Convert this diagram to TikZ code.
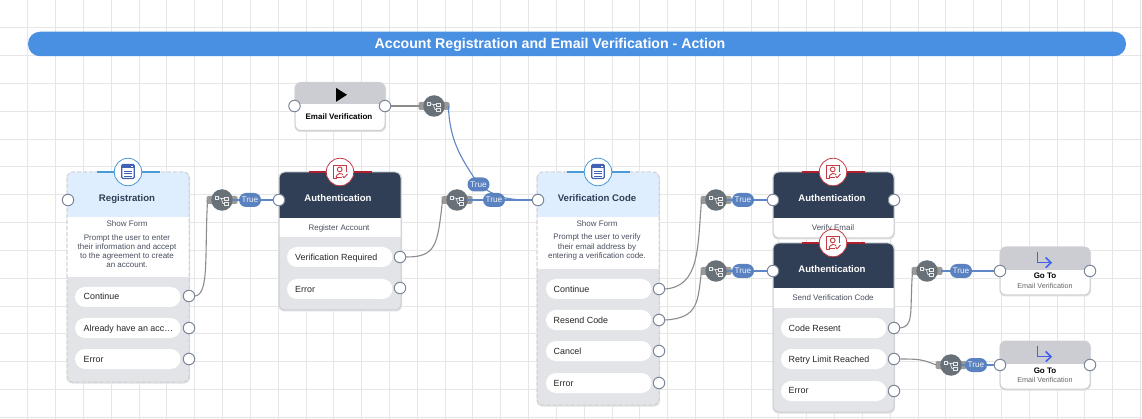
\documentclass[tikz,border=0pt]{standalone}
\usepackage{fontspec}
\setmainfont{Liberation Sans}
\definecolor{gridc}{HTML}{E6E6E7}
\definecolor{titlec}{HTML}{4A90E2}
\definecolor{lightb}{HTML}{DFEEFE}
\definecolor{darkh}{HTML}{303F56}
\definecolor{panel}{HTML}{E3E4E7}
\definecolor{bordc}{HTML}{CDD0D5}
\definecolor{topg}{HTML}{CBCDD2}
\definecolor{portc}{HTML}{7C8798}
\definecolor{bodyt}{HTML}{4A5060}
\definecolor{branchc}{HTML}{687078}
\definecolor{stubc}{HTML}{9A9A9A}
\definecolor{truec}{HTML}{5B82C0}
\definecolor{edgeb}{HTML}{5F86C6}
\definecolor{edgeg}{HTML}{8C8C8C}
\definecolor{redc}{HTML}{C23B45}
\definecolor{redbar}{HTML}{B0202E}
\definecolor{bluec}{HTML}{4A9AD8}
\definecolor{formc}{HTML}{3F62B5}
\definecolor{gotoc}{HTML}{3F5FF0}
\usetikzlibrary{calc}
\pgfdeclarelayer{front}
\pgfsetlayers{main,front}
\tikzset{
  port/.style={circle,draw=portc,fill=white,line width=1pt,minimum size=11.5pt,inner sep=0pt},
  pill/.style={rounded corners=10pt,fill=white},
  pilltext/.style={anchor=base west,inner sep=0pt,font=\fontsize{8.9}{10}\selectfont,text=black!85},
  heading/.style={inner sep=0pt,anchor=base,font=\fontsize{9.6}{11}\selectfont\bfseries},
  bodytext/.style={inner sep=0pt,align=center,font=\fontsize{8}{9.1}\selectfont,text=bodyt},
  branchnode/.style={circle,fill=branchc,minimum size=21.5pt,inner sep=0pt},
  truenode/.style={rounded corners=7pt,fill=truec,minimum width=22pt,minimum height=14pt,inner sep=0pt,text=white!90!truec,font=\fontsize{8.2}{10}\selectfont},
  blueedge/.style={draw=edgeb,line width=1.1pt},
  grayedge/.style={draw=edgeg,line width=1.1pt},
  softdash/.style={dash pattern=on 4pt off 2pt},
}
% card: x1 y1 x2 y2 header-bottom white-bottom header-colour
\newcommand{\cardbox}[8][solid]{%
  \path[fill=black!12,rounded corners=6pt] (#2-.5,#3+.5) rectangle (#4+1,#5+1.5);
  \begin{scope}
    \clip[rounded corners=6pt] (#2,#3) rectangle (#4,#5);
    \fill[panel] (#2,#3) rectangle (#4,#5);
    \fill[white] (#2,#6) rectangle (#4,#7);
    \fill[#8] (#2,#3) rectangle (#4,#6);
  \end{scope}
  \draw[bordc,line width=1pt,#1,rounded corners=6pt] (#2,#3) rectangle (#4,#5);
}
\newcommand{\formicon}[3]{% name x y
  \draw[bluec,line width=2pt] (#2-31,#3) -- (#2+32,#3);
  \node[circle,draw=bluec,fill=white,line width=.8pt,minimum size=27.5pt,inner sep=0pt] (#1) at (#2,#3) {};
  \begin{scope}[shift={(#2,#3-.5)}]
    \draw[formc,line width=1.2pt,rounded corners=1.2pt] (-6.2,-7) rectangle (6.2,7);
    \fill[formc] (-6.2,-7) rectangle (6.2,-3);
    \fill[white] (2.5,-5.8) rectangle (4.5,-4.2);
    \draw[formc,line width=1.1pt] (-3.8,-.3) -- (3.8,-.3) (-3.8,2.2) -- (3.8,2.2) (-3.8,4.6) -- (3.8,4.6);
  \end{scope}
}
\newcommand{\authicon}[3]{% name x y
  \draw[redbar,line width=2pt] (#2-31,#3) -- (#2+32,#3);
  \node[circle,draw=redc,fill=white,line width=.8pt,minimum size=27.5pt,inner sep=0pt] (#1) at (#2,#3) {};
  \begin{scope}[shift={(#2,#3)},redc,line width=.9pt]
    \draw (-3,6.5) -- (-6.5,6.5) -- (-6.5,-6.5) -- (6.5,-6.5) -- (6.5,.5);
    \draw (-.3,-2.6) circle (2.4);
    \draw (-4,5.5) .. controls (-3.8,1) and (2.5,.6) .. (3,3);
    \draw (-4,5.5) -- (1.5,5.5);
    \draw (2.8,4.2) -- (4,5.8) -- (7.5,2);
  \end{scope}
}
\newcommand{\branchicon}[3]{% name x y
  \fill[stubc,rounded corners=2pt] (#2-15.5,#3-4) rectangle (#2+15.5,#3+4);
  \node[branchnode] (#1) at (#2,#3) {};
  \begin{scope}[shift={(#2,#3)},white!85!branchc,line width=.7pt]
    \draw (-7,-3.6) rectangle (-3.6,-.9);
    \draw (2.8,-2.6) rectangle (6.4,0);
    \draw (2.8,2.4) rectangle (6.4,5);
    \draw (-3.6,-2.2) -- (-.8,-1.6) -- (2.8,-1.3);
    \draw (-.8,-1.6) -- (1,3.6) -- (2.8,3.6);
  \end{scope}
}
\newcommand{\gotoicon}[2]{% x y
  \begin{scope}[shift={(#1,#2)},gotoc,line width=1.5pt]
    \draw (-7.3,-8.3) -- (-7.3,2.7) -- (6,2.7);
    \draw (.7,-2.5) -- (6,2.7) -- (.7,7.7);
  \end{scope}
}
\begin{document}
\begin{tikzpicture}[x=1pt,y=-1pt]
\useasboundingbox (0,0) rectangle (1142,419);
\fill[white] (0,0) rectangle (1142,419);
\foreach \k in {1,...,41} {\draw[gridc,line width=1pt] ({27.82*\k},0) -- ({27.82*\k},419);}
\foreach \k in {1,...,15} {\draw[gridc,line width=1pt] (0,{27.82*\k}) -- (1142,{27.82*\k});}

% title
\node[fill=titlec,rounded corners=12pt,minimum width=1098pt,minimum height=24.5pt,inner sep=0pt] (title) at (577,44) {};
\node[inner sep=0pt,anchor=base,text=white,font=\fontsize{14.15}{16}\selectfont\bfseries] (titletext) at (550,49) {Account Registration and Email Verification - Action};

% cards
\cardbox[softdash]{67}{172}{189}{382}{217}{277}{lightb}
\cardbox{279}{172}{401}{310}{218}{237}{darkh}
\cardbox[softdash]{537}{172}{659}{405}{217}{269}{lightb}
\cardbox{773}{172}{894}{238}{218}{238}{darkh}
\node[bodytext] (a2sub) at (833,228) {Verify Email};
\cardbox{773}{243}{894}{412}{288}{308}{darkh}
\cardbox{295}{82.5}{385}{130.5}{104}{130.5}{topg}
\cardbox{1000}{247}{1090}{295}{270}{295}{topg}
\cardbox{1000}{341}{1090}{389}{364}{389}{topg}

% pills
\foreach \x/\y in {75/287,75/318,75/349,287/247,287/279,546/279,546/310,546/341,546/373,781/318,781/349,781/381}
  {\fill[pill] (\x,\y) rectangle (\x+105.5,\y+20);}

% branch groups
\branchicon{b1}{222}{200}
\branchicon{b2}{434}{106}
\branchicon{b3}{457}{200}
\branchicon{b4}{716}{200}
\branchicon{b5}{716}{271}
\branchicon{b6}{927}{271}
\branchicon{b7}{951}{365}

% registration
\formicon{regicon}{128}{172}
\node[heading,text=darkh] (regtitle) at (127,201.5) {Registration};
\node[bodytext] (regsub) at (127,224) {Show Form};
\node[bodytext] (regbody) at (127,251) {Prompt the user to enter\\their information and accept\\to the agreement to create\\an account.};
\node[pilltext] (rl1) at (83.5,299.5) {Continue};
\node[pilltext] (rl2) at (83.5,331.5) {Already have an acc…};
\node[pilltext] (rl3) at (83.5,362.5) {Error};
\node[port] (regin) at (68,200) {};
\node[port] (reg1) at (189,296) {};
\node[port] (reg2) at (189,328) {};
\node[port] (reg3) at (189,359) {};

% auth 1
\authicon{a1icon}{340}{172}
\node[heading,text=white] (a1title) at (338,201.5) {Authentication};
\node[bodytext] (a1sub) at (339,228) {Register Account};
\node[pilltext] (a1l1) at (295,260.5) {Verification Required};
\node[pilltext] (a1l2) at (295,292.5) {Error};
\node[port] (a1in) at (279,200) {};
\node[port] (a11) at (400,257) {};
\node[port] (a12) at (400,288) {};

% start
\fill[black] (336.2,88) -- (347,94.8) -- (336.2,101.7) -- cycle;
\node[inner sep=0pt,anchor=base,font=\fontsize{8}{10}\selectfont\bfseries] (starttext) at (339,119.3) {Email Verification};
\node[port] (startin) at (294.5,106) {};
\node[port] (startout) at (385,106) {};

% verification code
\formicon{vcicon}{598}{172}
\node[heading,text=darkh] (vctitle) at (597,201.5) {Verification Code};
\node[bodytext] (vcsub) at (597,224) {Show Form};
\node[bodytext] (vcbody) at (597,247) {Prompt the user to verify\\their email address by\\entering a verification code.};
\node[pilltext] (vl1) at (553.5,292.5) {Continue};
\node[pilltext] (vl2) at (553.5,323.5) {Resend Code};
\node[pilltext] (vl3) at (553.5,354.5) {Cancel};
\node[pilltext] (vl4) at (553.5,386.5) {Error};
\node[port] (vcin) at (538,200) {};
\node[port] (vc1) at (659,289) {};
\node[port] (vc2) at (659,320) {};
\node[port] (vc3) at (659,351) {};
\node[port] (vc4) at (659,383) {};

% auth verify email
\authicon{a2icon}{833}{172}
\node[heading,text=white] (a2title) at (832,201.5) {Authentication};
\node[port] (a2in) at (773,200) {};
\node[port] (a2out) at (894,200) {};

% auth send code
\authicon{a3icon}{833}{243}
\node[heading,text=white] (a3title) at (832,272.5) {Authentication};
\node[bodytext] (a3sub) at (833,298) {Send Verification Code};
\node[pilltext] (a3l1) at (788.5,331.5) {Code Resent};
\node[pilltext] (a3l2) at (788.5,362.5) {Retry Limit Reached};
\node[pilltext] (a3l3) at (788.5,393.5) {Error};
\node[port] (a3in) at (773,271) {};
\node[port] (a31) at (894,328) {};
\node[port] (a32) at (894,359) {};
\node[port] (a33) at (894,391) {};

% go to
\gotoicon{1045}{260}
\node[inner sep=0pt,anchor=base,font=\fontsize{8}{10}\selectfont\bfseries] (g1t) at (1045,279) {Go To};
\node[inner sep=0pt,anchor=base,font=\fontsize{7.2}{9}\selectfont,text=black!60] (g1s) at (1045,288.3) {Email Verification};
\node[port] (g1in) at (1000,271) {};
\node[port] (g1out) at (1090,271) {};
\gotoicon{1045}{354}
\node[inner sep=0pt,anchor=base,font=\fontsize{8}{10}\selectfont\bfseries] (g2t) at (1045,373) {Go To};
\node[inner sep=0pt,anchor=base,font=\fontsize{7.2}{9}\selectfont,text=black!60] (g2s) at (1045,382.3) {Email Verification};
\node[port] (g2in) at (1000,365) {};
\node[port] (g2out) at (1090,365) {};

% true labels sit above the connectors
\begin{pgfonlayer}{front}
\node[truenode] (t1) at (250,200) {True};
\node[truenode] (t2) at (478.5,184.5) {True};
\node[truenode] (t3) at (494,200) {True};
\node[truenode] (t4) at (743,200) {True};
\node[truenode] (t5) at (743,271) {True};
\node[truenode] (t6) at (961,271) {True};
\node[truenode] (t7) at (976,365) {True};
\end{pgfonlayer}

% connectors
\draw[grayedge] (reg1.east) .. controls +(14,-2) and +(-3,55) .. ($(b1.west)+(-3.5,0)$);
\draw[blueedge] (b1.east) -- (t1.west);
\draw[blueedge] (t1.east) -- (a1in.west);
\draw[grayedge] (startout.east) -- ($(b2.west)+(-3.5,0)$);
\draw[blueedge] ($(b2.east)+(3.5,0)$) .. controls +(1,38) and +(-14,-22) .. (t2.center);
\draw[blueedge] (t2.center) .. controls +(18,13) and +(-25,0) .. (vcin.west);
\draw[grayedge] (a11.east) .. controls +(30,0) and +(-5,45) .. ($(b3.west)+(-3.5,0)$);
\draw[blueedge] (b3.east) -- (t3.west);
\draw[blueedge] (t3.east) -- (vcin.west);
\draw[grayedge] (vc1.east) .. controls +(34,-3) and +(-4,50) .. ($(b4.west)+(-3.5,0)$);
\draw[blueedge] (b4.east) -- (t4.west);
\draw[blueedge] (t4.east) -- (a2in.west);
\draw[grayedge] (vc2.east) .. controls +(34,-2) and +(-4,30) .. ($(b5.west)+(-3.5,0)$);
\draw[blueedge] (b5.east) -- (t5.west);
\draw[blueedge] (t5.east) -- (a3in.west);
\draw[grayedge] (a31.east) .. controls +(14,-2) and +(-3,42) .. ($(b6.west)+(-3.5,0)$);
\draw[blueedge] ($(b6.east)+(3.5,0)$) -- (t6.west);
\draw[blueedge] (t6.east) -- (g1in.west);
\draw[grayedge] (a32.east) .. controls +(22,0) and +(-14,-5) .. ($(b7.west)+(-3.5,0)$);
\draw[blueedge] (b7.east) -- (t7.west);
\draw[blueedge] (t7.east) -- (g2in.west);
\end{tikzpicture}
\end{document}
